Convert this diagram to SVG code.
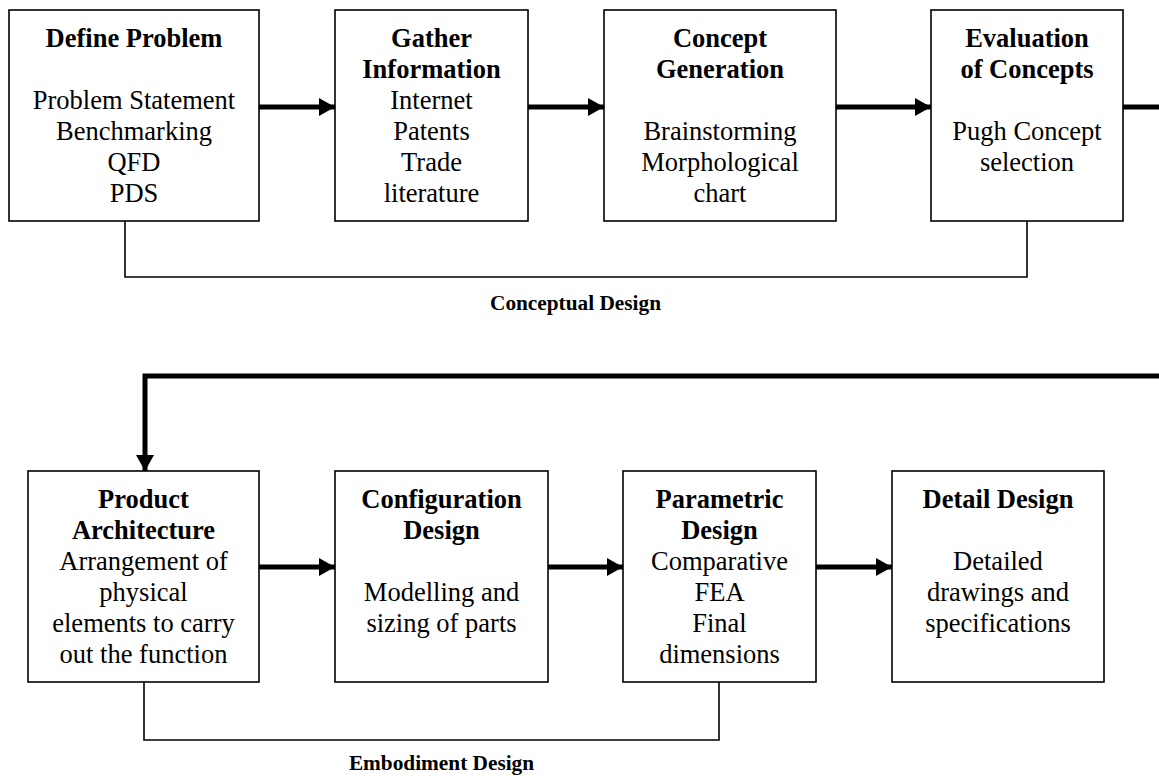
<svg xmlns="http://www.w3.org/2000/svg" width="1159" height="776" viewBox="0 0 1159 776">
<style>
.box{fill:#fff;stroke:#000;stroke-width:1.6}
text{font-family:"Liberation Serif","Times New Roman",serif;font-size:26.5px;fill:#000;text-anchor:middle}
.h{font-weight:bold}
.lbl{font-weight:bold;font-size:21.3px}
.flow{fill:none;stroke:#000;stroke-width:5}
.br{fill:none;stroke:#000;stroke-width:1.6}
</style>
<defs>
<marker id="ah" markerUnits="userSpaceOnUse" markerWidth="16" markerHeight="18" refX="16" refY="9" orient="auto">
<path d="M0,0 L16,9 L0,18 Z" fill="#000"/>
</marker>
</defs>
<g id="connectors">
<line class="flow" x1="259" y1="107" x2="335" y2="107" marker-end="url(#ah)"/>
<line class="flow" x1="528" y1="107" x2="604" y2="107" marker-end="url(#ah)"/>
<line class="flow" x1="836" y1="107" x2="931" y2="107" marker-end="url(#ah)"/>
<line class="flow" x1="1123" y1="107" x2="1159" y2="107"/>
<polyline class="flow" points="1159,376 145,376 145,471" marker-end="url(#ah)"/>
<line class="flow" x1="259" y1="567" x2="335" y2="567" marker-end="url(#ah)"/>
<line class="flow" x1="548" y1="567" x2="623" y2="567" marker-end="url(#ah)"/>
<line class="flow" x1="816" y1="567" x2="892" y2="567" marker-end="url(#ah)"/>
<polyline class="br" points="125,221 125,277 1027,277 1027,221"/>
<polyline class="br" points="144,682 144,740 719,740 719,682"/>
</g>
<g id="define-problem">
<rect class="box" x="9" y="10" width="250" height="211"/>
<text class="h" x="134" y="47">Define Problem</text>
<text x="134" y="109">Problem Statement</text>
<text x="134" y="140">Benchmarking</text>
<text x="134" y="171">QFD</text>
<text x="134" y="202">PDS</text>
</g>
<g id="gather-information">
<rect class="box" x="335" y="10" width="193" height="211"/>
<text class="h" x="431.5" y="47">Gather</text>
<text class="h" x="431.5" y="78">Information</text>
<text x="431.5" y="109">Internet</text>
<text x="431.5" y="140">Patents</text>
<text x="431.5" y="171">Trade</text>
<text x="431.5" y="202">literature</text>
</g>
<g id="concept-generation">
<rect class="box" x="604" y="10" width="232" height="211"/>
<text class="h" x="720" y="47">Concept</text>
<text class="h" x="720" y="78">Generation</text>
<text x="720" y="140">Brainstorming</text>
<text x="720" y="171">Morphological</text>
<text x="720" y="202">chart</text>
</g>
<g id="evaluation-of-concepts">
<rect class="box" x="931" y="10" width="192" height="211"/>
<text class="h" x="1027" y="47">Evaluation</text>
<text class="h" x="1027" y="78">of Concepts</text>
<text x="1027" y="140">Pugh Concept</text>
<text x="1027" y="171">selection</text>
</g>
<g id="conceptual-design-label">
<text class="lbl" x="575.5" y="310">Conceptual Design</text>
</g>
<g id="product-architecture">
<rect class="box" x="28" y="471" width="231" height="211"/>
<text class="h" x="143.5" y="508">Product</text>
<text class="h" x="143.5" y="539">Architecture</text>
<text x="143.5" y="570">Arrangement of</text>
<text x="143.5" y="601">physical</text>
<text x="143.5" y="632">elements to carry</text>
<text x="143.5" y="663">out the function</text>
</g>
<g id="configuration-design">
<rect class="box" x="335" y="471" width="213" height="211"/>
<text class="h" x="441.5" y="508">Configuration</text>
<text class="h" x="441.5" y="539">Design</text>
<text x="441.5" y="601">Modelling and</text>
<text x="441.5" y="632">sizing of parts</text>
</g>
<g id="parametric-design">
<rect class="box" x="623" y="471" width="193" height="211"/>
<text class="h" x="719.5" y="508">Parametric</text>
<text class="h" x="719.5" y="539">Design</text>
<text x="719.5" y="570">Comparative</text>
<text x="719.5" y="601">FEA</text>
<text x="719.5" y="632">Final</text>
<text x="719.5" y="663">dimensions</text>
</g>
<g id="detail-design">
<rect class="box" x="892" y="471" width="212" height="211"/>
<text class="h" x="998" y="508">Detail Design</text>
<text x="998" y="570">Detailed</text>
<text x="998" y="601">drawings and</text>
<text x="998" y="632">specifications</text>
</g>
<g id="embodiment-design-label">
<text class="lbl" x="441.5" y="770">Embodiment Design</text>
</g>
</svg>
